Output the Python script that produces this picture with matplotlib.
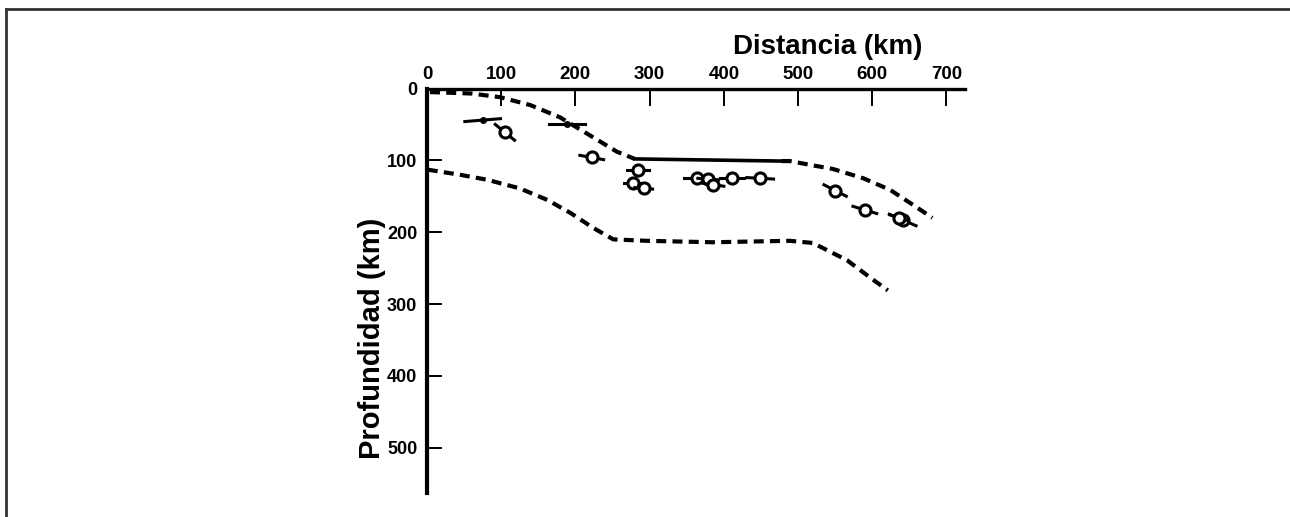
import numpy as np
import matplotlib
matplotlib.use('Agg')
import matplotlib.pyplot as plt
from matplotlib.lines import Line2D

plt.rcParams['font.family'] = ['Liberation Sans', 'DejaVu Sans']
plt.rcParams['font.weight'] = 'bold'

# Upper boundary of the slab (km): dashed, then a solid stretch, then dashed again
top1_x = [4, 60, 98, 139, 179, 224, 256, 280]
top1_z = [5, 7, 12, 23, 40, 68, 88, 98]
top_solid_x = [280, 478]
top_solid_z = [98, 101]
top2_x = [478, 489, 520, 547, 588, 624, 655, 681]
top2_z = [101, 101, 107, 112, 125, 141, 162, 180]

# Lower boundary (km)
bot_x = [1, 44, 81, 125, 162, 193, 224, 251, 296, 385, 489, 520, 566, 597, 621]
bot_z = [113, 120, 127, 139, 155, 173, 194, 210, 212, 214, 212, 215, 239, 263, 281]

# Events: distance, depth, half error bar (dx, dz), circle or not
ev_x = [75, 105, 189, 222, 284, 278, 292, 364, 379, 386, 411, 449, 550, 590, 641, 636]
ev_z = [44, 61, 49, 96, 114, 132, 139, 124, 126, 134, 124, 125, 142, 169, 183, 180]
ev_dx = [24, 13, 24, 16, 15, 13, 12, 17, 14, 14, 16, 18, 15, 16, 18, 12]
ev_dz = [-2, 11, 0, 3, 0, 0, 1, 0, 1, 2, 0, 1, 8, 5, 8, 4]
ev_circle = [False, True, False, True, True, True, True, True, True, True, True, True, True, True, True, True]

xticks = [0, 100, 200, 300, 400, 500, 600, 700]
yticks = [0, 100, 200, 300, 400, 500]

fig = plt.figure(figsize=(12.9, 5.17), dpi=100)
ax = fig.add_axes([427 / 1290, 24 / 517, 538 / 1290, 404.5 / 517])
ax.set_xlim(0, 725)
ax.set_ylim(563, 0)

dash = (2.4, 1.5)
ax.plot(top1_x, top1_z, color='black', lw=3.0, ls=(0, dash))
ax.plot(top_solid_x, top_solid_z, color='black', lw=2.6)
ax.plot(top2_x, top2_z, color='black', lw=3.0, ls=(0, dash))
ax.plot(bot_x, bot_z, color='black', lw=3.0, ls=(0, dash))

for x, z, dx, dz, c in zip(ev_x, ev_z, ev_dx, ev_dz, ev_circle):
    ax.plot([x - dx, x + dx], [z - dz, z + dz], color='black', lw=2.2)
    if c:
        ax.plot(x, z, 'o', ms=8, mfc='white', mec='black', mew=2.2)
    else:
        ax.plot(x, z, 'o', ms=4, color='black')

for s in ['right', 'bottom']:
    ax.spines[s].set_visible(False)
ax.spines['top'].set_linewidth(2.4)
ax.spines['left'].set_linewidth(3.0)

ax.xaxis.tick_top()
ax.set_xticks(xticks)
ax.set_xticklabels([str(v) for v in xticks])
ax.set_yticks(yticks)
ax.set_yticklabels([str(v) for v in yticks])
ax.tick_params(axis='x', direction='in', length=12, width=1.4, pad=4, labelsize=13.5)
ax.tick_params(axis='y', direction='in', length=11, width=1.4, pad=7, labelsize=13)

ax.text(0.745, 1.103, 'Distancia (km)', transform=ax.transAxes, ha='center', va='center',
        fontsize=20, fontweight='bold')
ax.text(-0.102, 0.383, 'Profundidad (km)', transform=ax.transAxes, ha='center', va='center',
        rotation=90, fontsize=21, fontweight='bold')

# frame lines of the original figure (top and left only)
fig.add_artist(Line2D([6 / 1290, 1], [1 - 9 / 517, 1 - 9 / 517], color='#333333', lw=2))
fig.add_artist(Line2D([6 / 1290, 6 / 1290], [0, 1 - 9 / 517], color='#333333', lw=2))

fig.savefig('out.png', dpi=100)
